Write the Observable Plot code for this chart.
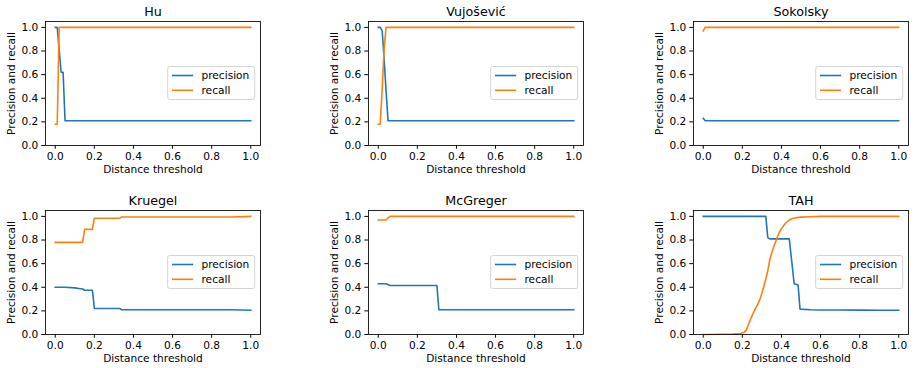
<!DOCTYPE html>
<html><head><meta charset="utf-8">
<script src="https://cdn.jsdelivr.net/npm/d3@7"></script>
<script src="https://cdn.jsdelivr.net/npm/@observablehq/plot@0.6"></script>
<style>
body{margin:0;background:#fff;}
#chart{position:relative;width:916px;height:368px;overflow:hidden;font-family:"DejaVu Sans";background:#fff;}
#chart svg{position:absolute;}
</style></head><body><div id="chart"></div>
<script>
const panelTitles = ["Hu", "Vujošević", "Sokolsky", "Kruegel", "McGreger", "TAH"];
const seriesNames = ["precision", "recall"];
const seriesColors = ["#1f77b4", "#ff7f0e"];
const xTicks = [0, 0.2, 0.4, 0.6, 0.8, 1.0];
const yTicks = [0, 0.2, 0.4, 0.6, 0.8, 1.0];
const xLabel = "Distance threshold";
const yLabel = "Precision and recall";

// Hu
const huX = [0, 0.01, 0.02, 0.03, 0.04, 0.05, 0.1, 0.2, 0.3, 0.4, 0.5, 0.6, 0.7, 0.8, 0.9, 1.0];
const huPrecision = [1.0, 1.0, 0.81, 0.62, 0.62, 0.21, 0.21, 0.21, 0.21, 0.21, 0.21, 0.21, 0.21, 0.21, 0.21, 0.21];
const huRecall = [0.18, 0.18, 1.0, 1.0, 1.0, 1.0, 1.0, 1.0, 1.0, 1.0, 1.0, 1.0, 1.0, 1.0, 1.0, 1.0];

// Vujošević
const vujX = [0, 0.01, 0.02, 0.03, 0.04, 0.05, 0.1, 0.2, 0.3, 0.4, 0.5, 0.6, 0.7, 0.8, 0.9, 1.0];
const vujPrecision = [1.0, 1.0, 0.97, 0.73, 0.46, 0.21, 0.21, 0.21, 0.21, 0.21, 0.21, 0.21, 0.21, 0.21, 0.21, 0.21];
const vujRecall = [0.18, 0.18, 0.48, 0.82, 1.0, 1.0, 1.0, 1.0, 1.0, 1.0, 1.0, 1.0, 1.0, 1.0, 1.0, 1.0];

// Sokolsky
const sokX = [0, 0.01, 0.1, 0.2, 0.3, 0.4, 0.5, 0.6, 0.7, 0.8, 0.9, 1.0];
const sokPrecision = [0.23, 0.21, 0.21, 0.21, 0.21, 0.21, 0.21, 0.21, 0.21, 0.21, 0.21, 0.21];
const sokRecall = [0.97, 1.0, 1.0, 1.0, 1.0, 1.0, 1.0, 1.0, 1.0, 1.0, 1.0, 1.0];

// Kruegel
const kruX = [0, 0.05, 0.1, 0.12, 0.14, 0.15, 0.19, 0.2, 0.33, 0.34, 0.4, 0.5, 0.6, 0.7, 0.8, 0.9, 1.0];
const kruPrecision = [0.40, 0.40, 0.395, 0.39, 0.385, 0.375, 0.375, 0.22, 0.22, 0.21, 0.21, 0.21, 0.21, 0.21, 0.21, 0.21, 0.205];
const kruRecall = [0.78, 0.78, 0.78, 0.78, 0.78, 0.89, 0.89, 0.985, 0.985, 0.995, 0.995, 0.995, 0.995, 0.995, 0.995, 0.995, 1.0];

// McGreger
const mcgX = [0, 0.04, 0.06, 0.1, 0.2, 0.3, 0.31, 0.4, 0.5, 0.6, 0.7, 0.8, 0.9, 1.0];
const mcgPrecision = [0.43, 0.43, 0.415, 0.415, 0.415, 0.415, 0.21, 0.21, 0.21, 0.21, 0.21, 0.21, 0.21, 0.21];
const mcgRecall = [0.97, 0.97, 1.0, 1.0, 1.0, 1.0, 1.0, 1.0, 1.0, 1.0, 1.0, 1.0, 1.0, 1.0];

// TAH
const tahPrecisionX = [0, 0.1, 0.2, 0.3, 0.32, 0.33, 0.34, 0.44, 0.465, 0.475, 0.485, 0.495, 0.55, 0.6, 0.7, 0.8, 0.9, 1.0];
const tahPrecision = [1.0, 1.0, 1.0, 1.0, 1.0, 0.82, 0.81, 0.81, 0.43, 0.425, 0.42, 0.215, 0.21, 0.208, 0.207, 0.206, 0.205, 0.205];
const tahRecallX = [0, 0.1, 0.15, 0.19, 0.21, 0.22, 0.23, 0.24, 0.25, 0.26, 0.27, 0.28, 0.29, 0.30, 0.31, 0.32, 0.33, 0.34, 0.35, 0.36, 0.37, 0.38, 0.39, 0.40, 0.42, 0.44, 0.46, 0.48, 0.50, 0.55, 0.6, 0.7, 0.8, 0.9, 1.0];
const tahRecall = [0.0, 0.002, 0.004, 0.008, 0.02, 0.037, 0.078, 0.123, 0.16, 0.197, 0.23, 0.26, 0.30, 0.35, 0.409, 0.47, 0.54, 0.63, 0.69, 0.74, 0.785, 0.83, 0.868, 0.897, 0.94, 0.97, 0.985, 0.99, 0.994, 0.997, 1.0, 1.0, 1.0, 1.0, 1.0];

function rows(px, py, rx, ry) {
  return px.map((x, i) => ({x, y: py[i], series: "precision"}))
    .concat(rx.map((x, i) => ({x, y: ry[i], series: "recall"})));
}

const panelData = [
  rows(huX, huPrecision, huX, huRecall),
  rows(vujX, vujPrecision, vujX, vujRecall),
  rows(sokX, sokPrecision, sokX, sokRecall),
  rows(kruX, kruPrecision, kruX, kruRecall),
  rows(mcgX, mcgPrecision, mcgX, mcgRecall),
  rows(tahPrecisionX, tahPrecision, tahRecallX, tahRecall)
];

const colLeft = [0, 323, 648];
const rowTop = [0, 189];
const M = {left: 45, right: 7, top: 21, bottom: 34};
const FW = 215, FH = 124;
const fs = 10.6;

const chart = document.getElementById("chart");

panelTitles.forEach((title, k) => {
  const svg = Plot.plot({
    width: M.left + FW + M.right,
    height: M.top + FH + M.bottom,
    marginLeft: M.left, marginRight: M.right, marginTop: M.top, marginBottom: M.bottom,
    style: {fontFamily: "DejaVu Sans", fontSize: fs + "px", color: "#000", background: "#fff", overflow: "visible"},
    x: {domain: [-0.05, 1.05]},
    y: {domain: [0, 1.05]},
    color: {domain: seriesNames, range: seriesColors},
    marks: [
      Plot.axisX({ticks: xTicks, tickFormat: d3.format(".1f"), tickSize: 3.7, tickPadding: 3.5, label: null, fontSize: fs}),
      Plot.axisY({ticks: yTicks, tickFormat: d3.format(".1f"), tickSize: 3.7, tickPadding: 3.5, label: null, fontSize: fs}),
      Plot.line(panelData[k], {x: "x", y: "y", z: "series", stroke: "series", strokeWidth: 1.6, strokeLinejoin: "round", strokeLinecap: "square"}),
      Plot.frame({stroke: "#000", strokeWidth: 0.85}),
      Plot.text([title], {text: d => d, frameAnchor: "top", dy: -6, lineAnchor: "bottom", textAnchor: "middle", fontSize: 12.7}),
      Plot.text([xLabel], {text: d => d, frameAnchor: "bottom", dy: 27.5, lineAnchor: "bottom", textAnchor: "middle", fontSize: fs}),
      Plot.text([yLabel], {text: d => d, frameAnchor: "left", dx: -34, rotate: -90, lineAnchor: "middle", textAnchor: "middle", fontSize: fs})
    ]
  });
  svg.style.left = colLeft[k % 3] + "px";
  svg.style.top = rowTop[Math.floor(k / 3)] + "px";

  // legend (center right, matplotlib style)
  const bw = 87, bh = 33;
  const bx = M.left + FW - 5.3 - bw;
  const by = M.top + FH / 2 - bh / 2;
  const g = d3.select(svg).append("g").attr("font-family", "DejaVu Sans").attr("font-size", fs).attr("text-anchor", "start");
  g.append("rect").attr("x", bx).attr("y", by).attr("width", bw).attr("height", bh)
    .attr("rx", 2).attr("fill", "#fff").attr("fill-opacity", 0.8).attr("stroke", "#cccccc").attr("stroke-width", 0.85);
  seriesNames.forEach((s, i) => {
    const cy = by + 9 + i * 14.8;
    g.append("line").attr("x1", bx + 4.3).attr("x2", bx + 25.5).attr("y1", cy).attr("y2", cy)
      .attr("stroke", seriesColors[i]).attr("stroke-width", 1.6);
    g.append("text").attr("x", bx + 33.8).attr("y", cy).attr("dy", "0.35em").attr("text-anchor", "start").attr("fill", "#000").text(s);
  });

  chart.appendChild(svg);
});
</script>
</body></html>
